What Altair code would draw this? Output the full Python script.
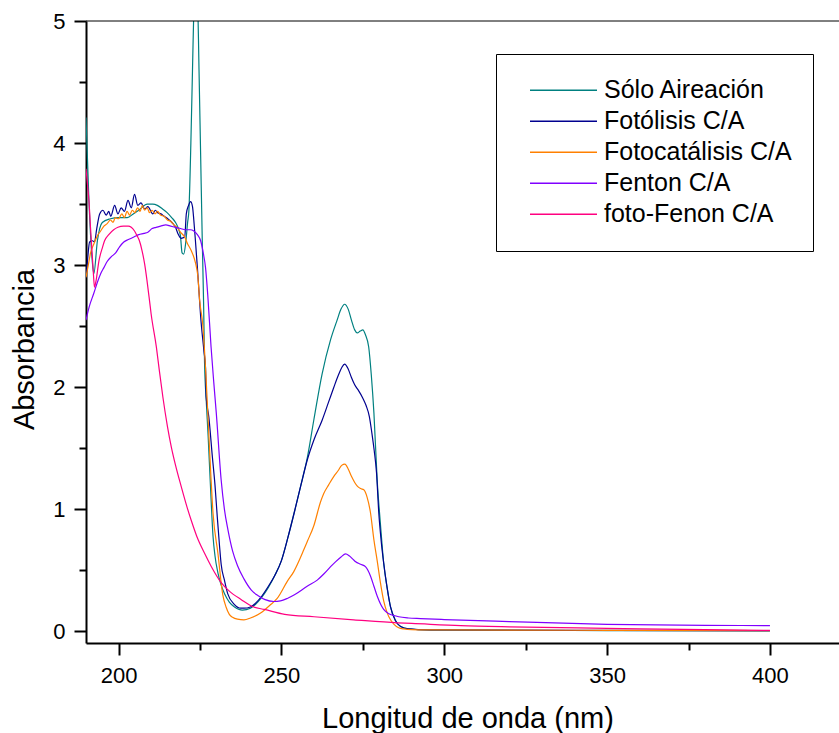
import altair as alt
import pandas as pd

FONT = "Liberation Sans"

SERIES = ["Sólo Aireación", "Fotólisis C/A", "Fotocatálisis C/A", "Fenton C/A", "foto-Fenon C/A"]
COLORS = ["#008080", "#00008f", "#ff8000", "#8000ff", "#ff0080"]

X_DOMAIN = [190, 421.2]
Y_DOMAIN = [-0.095, 5]
X_MAJOR = [200, 250, 300, 350, 400]
X_MINOR = [225, 275, 325, 375]
Y_MAJOR = [0, 1, 2, 3, 4, 5]
Y_MINOR = [0.5, 1.5, 2.5, 3.5, 4.5]

aire_wl = [190.0, 190.9, 191.9, 192.4, 193.5, 195.0, 197.5, 200.0, 202.7, 204.5, 206.2, 208.8, 210.5,
           211.9, 213.5, 214.9, 216.3, 217.5, 218.5, 219.0, 219.5, 220.0, 220.6, 221.2, 221.6, 222.2,
           222.7, 223.2, 223.7, 224.2, 224.7, 225.2, 225.7, 226.1, 226.4, 226.9, 227.5, 228.2, 229.0,
           229.6, 230.5, 231.5, 232.5, 234.0, 235.6, 237.0, 238.0, 240.5, 242.0, 244.0, 246.0, 248.0,
           250.0, 252.0, 254.0, 256.0, 258.0, 260.0, 262.5, 265.1, 267.1, 268.3, 269.4, 270.5, 271.5,
           272.5, 273.3, 274.2, 275.0, 275.8, 276.8, 277.6, 278.4, 279.4, 280.4, 281.4, 282.5, 283.5,
           285.0, 286.6, 289.0, 292.0, 300.0, 350.0, 400.0]
aire_abs = [4.21, 3.53, 3.04, 2.93, 3.20, 3.35, 3.38, 3.39, 3.39, 3.42, 3.45, 3.50, 3.50,
            3.49, 3.46, 3.43, 3.39, 3.35, 3.29, 3.24, 3.10, 3.09, 3.18, 3.35, 3.45, 4.00,
            4.60, 5.20, 5.55, 5.30, 4.60, 3.90, 3.20, 2.70, 2.20, 1.90, 1.60, 1.20, 0.78,
            0.62, 0.48, 0.38, 0.31, 0.24, 0.20, 0.18, 0.175, 0.19, 0.22, 0.28, 0.36, 0.46,
            0.58, 0.77, 0.98, 1.20, 1.43, 1.74, 2.11, 2.39, 2.55, 2.64, 2.68, 2.64, 2.55,
            2.47, 2.445, 2.46, 2.47, 2.43, 2.33, 2.10, 1.79, 1.24, 0.88, 0.56, 0.35, 0.20,
            0.09, 0.04, 0.02, 0.015, 0.01, 0.007, 0.005]

foto_wl = [190.0, 190.5, 191.1, 192.0, 192.6, 193.3, 194.2, 195.2, 196.2, 197.0, 197.6, 198.8, 199.8,
           200.8, 201.8, 202.9, 203.9, 204.9, 205.9, 206.9, 208.0, 209.0, 210.5, 211.3, 212.0, 213.0,
           214.0, 215.1, 216.0, 216.7, 217.5, 218.2, 219.2, 220.3, 220.8, 221.5, 222.1, 222.7, 223.1,
           223.6, 224.2, 224.7, 225.2, 226.2, 226.7, 226.9, 227.7, 228.8, 229.6, 230.3, 231.0, 231.5,
           232.5, 233.5, 235.6, 237.5, 238.5, 240.5, 242.0, 244.0, 246.0, 248.0, 250.0, 252.0, 254.0,
           256.0, 258.0, 260.0, 262.5, 264.5, 266.1, 267.5, 268.5, 269.4, 270.5, 271.5, 272.5, 273.5,
           275.0, 276.0, 277.0, 277.8, 278.5, 279.2, 279.9, 280.6, 281.4, 282.5, 283.5, 285.0, 286.6,
           289.0, 292.0, 300.0, 350.0, 400.0]
foto_abs = [2.90, 3.05, 3.19, 3.20, 3.19, 3.30, 3.42, 3.45, 3.41, 3.44, 3.40, 3.49, 3.42,
            3.47, 3.44, 3.53, 3.47, 3.58, 3.49, 3.51, 3.46, 3.48, 3.42, 3.45, 3.43, 3.42,
            3.40, 3.38, 3.36, 3.34, 3.31, 3.26, 3.22, 3.23, 3.42, 3.49, 3.52, 3.48, 3.37,
            3.20, 2.98, 2.78, 2.58, 2.30, 2.16, 1.92, 1.76, 1.43, 1.20, 0.94, 0.70, 0.55,
            0.42, 0.31, 0.22, 0.19, 0.19, 0.20, 0.23, 0.29, 0.37, 0.46, 0.58, 0.77, 0.98,
            1.20, 1.41, 1.57, 1.73, 1.88, 2.00, 2.10, 2.16, 2.19, 2.15, 2.08, 2.02, 1.98,
            1.91, 1.85, 1.76, 1.62, 1.48, 1.30, 0.97, 0.75, 0.56, 0.35, 0.20, 0.09, 0.04,
            0.02, 0.015, 0.012, 0.008, 0.006]

cat_wl = [190.0, 190.7, 191.4, 192.5, 193.5, 194.5, 195.5, 196.5, 197.5, 198.3, 199.0, 200.0, 201.0,
          201.8, 202.6, 203.4, 204.2, 205.0, 205.8, 206.6, 207.3, 208.0, 208.8, 209.5, 210.3, 211.2,
          212.0, 212.9, 214.0, 215.0, 216.0, 217.0, 218.0, 219.0, 220.3, 221.1, 222.3, 223.6, 224.3,
          224.9, 225.9, 226.9, 227.9, 229.0, 230.5, 232.0, 233.0, 234.0, 235.0, 236.5, 238.5, 240.5,
          243.6, 246.7, 248.7, 251.8, 253.8, 256.9, 258.0, 260.0, 262.0, 263.0, 264.5, 266.1, 267.5,
          268.5, 269.5, 270.5, 271.5, 272.5, 273.3, 274.3, 275.3, 276.3, 277.3, 278.4, 279.4, 280.4,
          281.4, 282.5, 283.5, 284.5, 286.0, 287.6, 290.0, 300.0, 350.0, 400.0]
cat_abs = [2.90, 3.00, 3.10, 3.18, 3.24, 3.28, 3.32, 3.34, 3.37, 3.35, 3.39, 3.38, 3.42,
           3.39, 3.44, 3.41, 3.45, 3.43, 3.47, 3.44, 3.49, 3.45, 3.47, 3.43, 3.45, 3.42,
           3.44, 3.41, 3.40, 3.37, 3.36, 3.33, 3.31, 3.27, 3.23, 3.18, 3.12, 3.02, 2.92,
           2.71, 2.50, 2.06, 1.51, 0.97, 0.64, 0.30, 0.20, 0.14, 0.115, 0.10, 0.095, 0.11,
           0.15, 0.22, 0.27, 0.41, 0.49, 0.67, 0.74, 0.87, 1.06, 1.13, 1.20, 1.27, 1.32,
           1.36, 1.37, 1.33, 1.27, 1.22, 1.19, 1.17, 1.16, 1.10, 0.98, 0.75, 0.58, 0.40,
           0.25, 0.15, 0.095, 0.06, 0.03, 0.02, 0.015, 0.012, 0.009, 0.007]

fenton_wl = [190.0, 191.0, 192.4, 193.5, 194.5, 195.5, 196.5, 197.8, 199.1, 200.3, 201.6, 203.0, 204.7,
             206.2, 207.8, 209.0, 210.3, 211.5, 212.9, 214.5, 216.0, 217.5, 219.0, 220.5, 222.0, 223.1,
             224.2, 225.2, 226.0, 226.7, 227.4, 228.4, 229.2, 230.0, 231.5, 232.5, 233.6, 235.0, 236.5,
             238.5, 240.7, 243.0, 245.0, 247.7, 249.7, 251.8, 254.0, 257.9, 261.0, 263.0, 265.1, 266.6,
             268.3, 269.7, 270.8, 272.0, 272.8, 274.3, 275.8, 277.4, 278.4, 279.4, 281.4, 283.0, 284.5,
             286.0, 289.0, 292.7, 300.0, 320.0, 350.0, 380.0, 400.0]
fenton_abs = [2.55, 2.66, 2.77, 2.86, 2.93, 2.98, 3.03, 3.07, 3.10, 3.15, 3.19, 3.21, 3.23,
              3.25, 3.26, 3.27, 3.30, 3.31, 3.32, 3.33, 3.32, 3.31, 3.30, 3.29, 3.29, 3.28,
              3.25, 3.20, 3.10, 2.98, 2.75, 2.33, 2.05, 1.79, 1.24, 1.00, 0.83, 0.66, 0.54,
              0.43, 0.34, 0.29, 0.26, 0.245, 0.25, 0.27, 0.30, 0.37, 0.42, 0.47, 0.53, 0.57,
              0.61, 0.635, 0.62, 0.59, 0.57, 0.55, 0.53, 0.45, 0.37, 0.29, 0.18, 0.145, 0.13,
              0.12, 0.11, 0.105, 0.097, 0.08, 0.058, 0.05, 0.047]

ffenton_wl = [190.0, 190.5, 190.9, 191.4, 191.9, 192.3, 192.6, 193.0, 194.0, 195.0, 195.7, 197.0, 198.5,
              199.8, 201.5, 203.0, 203.9, 204.9, 205.7, 206.4, 207.2, 208.0, 208.7, 209.5, 210.0, 211.6,
              212.5, 213.6, 215.0, 216.2, 217.5, 219.2, 221.0, 222.3, 224.0, 226.4, 228.5, 231.5, 234.0,
              237.7, 241.5, 244.8, 251.0, 260.0, 272.2, 285.6, 290.0, 305.0, 320.0, 350.0, 380.0, 400.0]
ffenton_abs = [3.79, 3.65, 3.53, 3.30, 3.09, 2.92, 2.82, 2.86, 3.04, 3.14, 3.20, 3.25, 3.29,
               3.31, 3.32, 3.32, 3.31, 3.28, 3.24, 3.20, 3.12, 3.01, 2.88, 2.71, 2.60, 2.33,
               2.14, 1.92, 1.68, 1.51, 1.36, 1.19, 1.02, 0.91, 0.78, 0.64, 0.53, 0.40, 0.33,
               0.26, 0.20, 0.18, 0.14, 0.12, 0.095, 0.07, 0.065, 0.047, 0.037, 0.025, 0.014, 0.008]

frames = []
for name, wl, ab in [
    (SERIES[0], aire_wl, aire_abs),
    (SERIES[1], foto_wl, foto_abs),
    (SERIES[2], cat_wl, cat_abs),
    (SERIES[3], fenton_wl, fenton_abs),
    (SERIES[4], ffenton_wl, ffenton_abs),
]:
    frames.append(pd.DataFrame({"serie": name, "wl": wl, "absorbancia": ab}))
df = pd.concat(frames, ignore_index=True)

x_scale = alt.Scale(domain=X_DOMAIN, nice=False, zero=False)
y_scale = alt.Scale(domain=Y_DOMAIN, nice=False, zero=False)

x_axis = alt.Axis(
    values=X_MAJOR, orient="bottom", format="d", grid=False,
    domainColor="black", domainWidth=2, tickColor="black", tickWidth=2, tickSize=12,
    labelFont=FONT, labelFontSize=22, labelColor="black", labelPadding=27,
    labelBaseline="alphabetic", labelFlush=False, labelOverlap=False,
    title="Longitud de onda (nm)", titleFont=FONT, titleFontSize=29, titleFontWeight="normal",
    titleColor="black", titleX=381.5, titleY=84, titleBaseline="alphabetic", titleAlign="center",
)
y_axis = alt.Axis(
    values=Y_MAJOR, orient="left", format="d", grid=False,
    domainColor="black", domainWidth=2, tickColor="black", tickWidth=2, tickSize=12,
    labelFont=FONT, labelFontSize=22, labelColor="black", labelPadding=9,
    labelFlush=False, labelOverlap=False,
    title="Absorbancia", titleFont=FONT, titleFontSize=29, titleFontWeight="normal",
    titleColor="black", titleAngle=270, titleX=-53, titleY=328, titleBaseline="alphabetic",
    titleAlign="center",
)

lines = alt.Chart(df).mark_line(clip=True, strokeWidth=1.2, interpolate="monotone").encode(
    x=alt.X("wl:Q", scale=x_scale, axis=x_axis),
    y=alt.Y("absorbancia:Q", scale=y_scale, axis=y_axis),
    color=alt.Color(
        "serie:N",
        scale=alt.Scale(domain=SERIES, range=COLORS),
        sort=SERIES,
        legend=alt.Legend(
            title=None, orient="none", legendX=410, legendY=33, padding=21,
            clipHeight=30.6, rowPadding=0, symbolType="stroke", symbolSize=4489,
            symbolStrokeWidth=1.5, symbolOffset=12, labelOffset=6, labelFontSize=25,
            labelFont=FONT, labelColor="black", labelLimit=400,
            strokeColor="black", fillColor="white",
        ),
    ),
)

top_df = pd.DataFrame({"top": [Y_DOMAIN[1]]})
frame = alt.Chart(top_df).mark_rule(color="black", strokeWidth=1).encode(
    x=alt.X(datum=X_DOMAIN[0], type="quantitative", scale=x_scale,
            axis=alt.Axis(values=X_MINOR, orient="bottom", title=None, labels=False, domain=False,
                          grid=False, tickSize=7, tickWidth=2, tickColor="black")),
    x2=alt.X2(datum=X_DOMAIN[1]),
    y=alt.Y("top:Q", scale=y_scale,
            axis=alt.Axis(values=Y_MINOR, orient="left", title=None, labels=False, domain=False,
                          grid=False, tickSize=7, tickWidth=2, tickColor="black")),
)

chart = alt.layer(lines, frame).resolve_axis(x="independent", y="independent").properties(
    width=753, height=622,
    padding={"left": 86, "top": 21, "right": 0, "bottom": 90},
    autosize=alt.AutoSizeParams(type="none"),
    background="white",
).configure_view(stroke=None)

chart.save("out.html", embed_options={"renderer": "svg", "actions": False})
